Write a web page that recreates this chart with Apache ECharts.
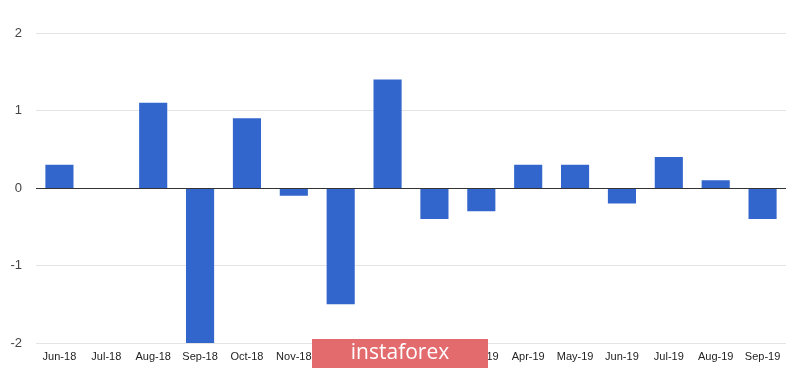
<!DOCTYPE html>
<html>
<head>
<meta charset="utf-8">
<script src="https://cdn.jsdelivr.net/npm/echarts@6/dist/echarts.min.js"></script>
<style>html,body{margin:0;padding:0;background:#fff}#c{width:800px;height:370px}</style>
</head>
<body>
<div id="c"></div>
<script>
const categories = ["Jun-18","Jul-18","Aug-18","Sep-18","Oct-18","Nov-18","Dec-18","Jan-19","Feb-19","Mar-19","Apr-19","May-19","Jun-19","Jul-19","Aug-19","Sep-19"];
const values = [0.3, 0, 1.1, -2.0, 0.9, -0.1, -1.5, 1.4, -0.4, -0.3, 0.3, 0.3, -0.2, 0.4, 0.1, -0.4];
const yTicks = [-2, -1, 0, 1, 2];

const chart = echarts.init(document.getElementById('c'));
chart.setOption({
  animation: false,
  grid: {left: 36, right: 14, top: 33, bottom: 27},
  xAxis: {
    type: 'category', data: categories,
    axisLine: {show: false}, axisTick: {show: false},
    axisLabel: {color: '#222', fontSize: 11, fontFamily: 'Arial, Liberation Sans', margin: 8, interval: 0}
  },
  yAxis: {
    type: 'value', min: yTicks[0], max: yTicks[yTicks.length-1], interval: 1,
    axisLine: {show: false}, axisTick: {show: false},
    axisLabel: {color: '#444', fontSize: 13, fontFamily: 'Arial, Liberation Sans', margin: 14},
    splitLine: {lineStyle: {color: '#e4e4e4', width: 1}}
  },
  series: [{
    type: 'bar', data: values, barCategoryGap: '40%',
    itemStyle: {color: '#3366cc'},
    markLine: {silent: true, symbol: 'none', label: {show: false},
      lineStyle: {color: '#333', width: 1, type: 'solid'}, data: [{yAxis: 0}]}
  }],
  graphic: [{
    type: 'group', left: 312, top: 339, z: 1000,
    children: [
      {type: 'rect', z: 1000, shape: {x: 0, y: 0, width: 176, height: 29}, style: {fill: '#e36b6e'}},
      {type: 'text', z: 1001, x: 88, y: 14, style: {text: 'instaforex', fill: '#fff', fontSize: 21, fontFamily: 'Open Sans, Arial', align: 'center', verticalAlign: 'middle'}}
    ]
  }]
});
</script>
</body>
</html>
